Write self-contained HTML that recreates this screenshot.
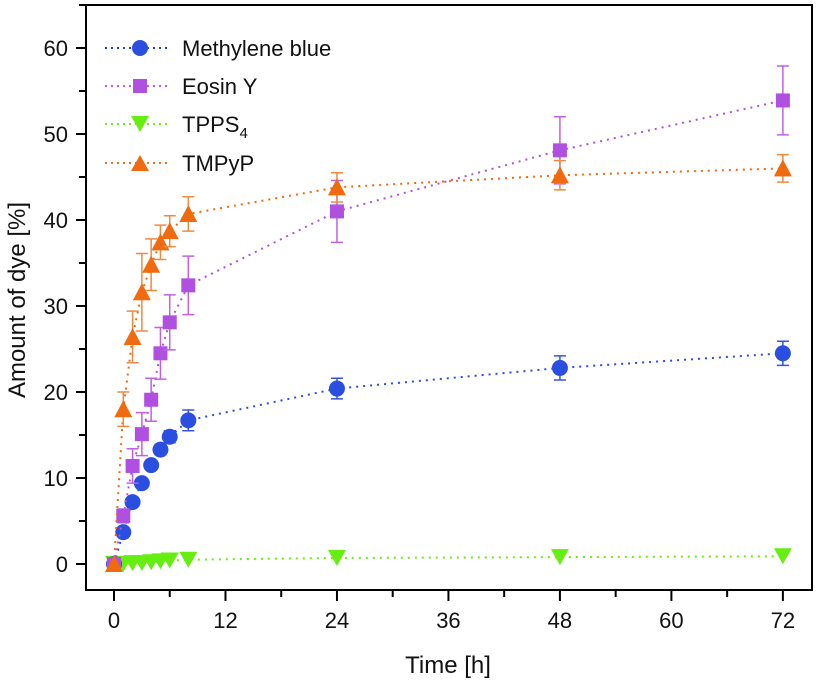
<!DOCTYPE html>
<html><head><meta charset="utf-8"><style>
body{margin:0;background:#fff;}
svg text{font-family:"Liberation Sans",sans-serif;fill:#111;}
</style></head><body>
<svg id="chart" width="817" height="686" xmlns="http://www.w3.org/2000/svg">
<rect x="86" y="5" width="726" height="585" fill="none" stroke="#000" stroke-width="2"/>
<g id="axes"></g><g id="series"></g>
<g font-size="20">
 <g><line x1="105" y1="48" x2="168" y2="48" stroke="#2244dd" stroke-width="2" stroke-dasharray="2,4"/><circle cx="140" cy="48" r="8" fill="#2a4fe0"/><text x="182" y="56" font-size="22">Methylene blue</text></g>
 <g><line x1="105" y1="86" x2="168" y2="86" stroke="#c05ae0" stroke-width="2" stroke-dasharray="2,4"/><rect x="133" y="79" width="14" height="14" fill="#b050e0"/><text x="182" y="94" font-size="22">Eosin Y</text></g>
 <g><line x1="105" y1="124" x2="168" y2="124" stroke="#66ee22" stroke-width="2" stroke-dasharray="2,4"/><polygon points="131,116 149,116 140,132" fill="#66ee11"/><text x="182" y="132" font-size="22">TPPS<tspan font-size="15" dy="6">4</tspan></text></g>
 <g><line x1="105" y1="163" x2="168" y2="163" stroke="#f07020" stroke-width="2" stroke-dasharray="2,4"/><polygon points="131,171 149,171 140,155" fill="#f06a10"/><text x="182" y="171" font-size="22">TMPyP</text></g>
</g>
<text x="448" y="673" font-size="24" text-anchor="middle">Time [h]</text>
<text x="0" y="0" font-size="24" text-anchor="middle" transform="translate(25,300) rotate(-90)">Amount of dye [%]</text>
</svg>
<script>
const times=[0,1,2,3,4,5,6,8,24,48,72];
const mbVals=[0,3.7,7.2,9.4,11.5,13.3,14.8,16.7,20.4,22.8,24.5];
const mbErr=[0,0.3,0.4,0.5,0.5,0.6,0.7,1.2,1.2,1.4,1.4];
const eoVals=[0,5.6,11.4,15.1,19.1,24.5,28.1,32.4,41.0,48.1,53.9];
const eoErr=[0,0.8,2.0,2.5,2.5,3.0,3.2,3.4,3.6,3.9,4.0];
const tpVals=[0,0,0.1,0.1,0.2,0.3,0.4,0.5,0.7,0.8,0.9];
const tmVals=[0,18.0,26.4,31.6,34.8,37.4,38.7,40.7,43.8,45.2,46.0];
const tmErr=[0,2.0,3.0,4.5,3.0,2.0,1.8,2.0,1.7,1.7,1.6];
const xTicks=[0,12,24,36,48,60,72];
const yTicks=[0,10,20,30,40,50,60];
const X=v=>114+v*9.29, Y=v=>564-v*8.6;
const NS="http://www.w3.org/2000/svg";
function mk(t,a,p){const e=document.createElementNS(NS,t);for(const k in a)e.setAttribute(k,a[k]);p.appendChild(e);return e;}
const ax=document.getElementById('axes');
for(let v=0;v<=72;v+=6){const maj=v%12===0;const t=mk('line',{x1:X(v),x2:X(v),y1:590,y2:maj?601:597,stroke:'#000','stroke-width':2},ax);

}
xTicks.forEach(v=>{const t=mk('text',{x:X(v),y:628,'font-size':22,'text-anchor':'middle'},ax);t.textContent=v;

});
for(let v=0;v<=65;v+=5){const maj=v%10===0;const t=mk('line',{x1:maj?76:79,x2:86,y1:Y(v),y2:Y(v),stroke:'#000','stroke-width':2},ax);

}
yTicks.forEach(v=>{const t=mk('text',{x:68,y:Y(v)+8,'font-size':22,'text-anchor':'end'},ax);t.textContent=v;

});
const sg=document.getElementById('series');
function series(name,vals,err,col,ecol,shape){
 const g=mk('g',{},sg);
 
 
 const pl=mk('polyline',{points:times.map((t,i)=>X(t)+','+Y(vals[i])).join(' '),fill:'none',stroke:col,'stroke-width':2,'stroke-dasharray':'2,5'},g);
 
 
 times.forEach((t,i)=>{const x=X(t),y=Y(vals[i]);
  if(err&&err[i]>0){const e=err[i];const eb=mk('path',{d:`M${x},${Y(vals[i]+e)}V${Y(vals[i]-e)}M${x-6},${Y(vals[i]+e)}h12M${x-6},${Y(vals[i]-e)}h12`,stroke:ecol,'stroke-width':1.5,fill:'none'},g);
   
   }
  let m;
  if(shape==='c')m=mk('circle',{cx:x,cy:y,r:8,fill:col},g);
  else if(shape==='s')m=mk('rect',{x:x-7,y:y-7,width:14,height:14,fill:col},g);
  else if(shape==='d')m=mk('polygon',{points:`${x-9},${y-8} ${x+9},${y-8} ${x},${y+8}`,fill:col},g);
  else m=mk('polygon',{points:`${x-9},${y+8} ${x+9},${y+8} ${x},${y-9}`,fill:col},g);
  
  });
}
series('tpps4',tpVals,null,'#66ee11','#66ee11','d');
series('methylene-blue',mbVals,mbErr,'#2a4fe0','#3355dd','c');
series('eosin-y',eoVals,eoErr,'#b050e0','#c060e8','s');
series('tmpyp',tmVals,tmErr,'#f06a10','#f08a40','t');
</script>
</body></html>
